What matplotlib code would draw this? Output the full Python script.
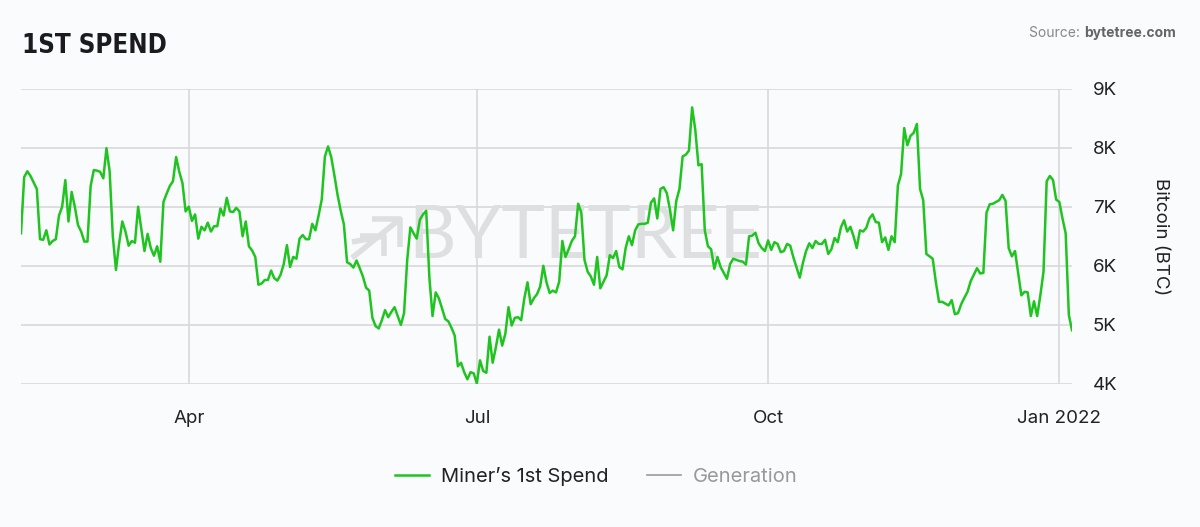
import numpy as np
import pandas as pd
import matplotlib
matplotlib.use('Agg')
import matplotlib.pyplot as plt
from matplotlib.ticker import FuncFormatter

# Miner's 1st spend, thousands of BTC, one value per day from 7 Feb 2021
feb = [6.55, 7.5, 7.6, 7.52, 7.41, 7.3, 6.45, 6.44, 6.6, 6.36, 6.42, 6.45, 6.85, 7.0,
       7.45, 6.75, 7.25, 7.0, 6.69, 6.58, 6.41, 6.41]
mar = [7.35, 7.62, 7.61, 7.59, 7.48, 7.99, 7.6, 6.5, 5.93, 6.38, 6.75, 6.58, 6.34, 6.42,
       6.39, 7.0, 6.62, 6.25, 6.54, 6.3, 6.17, 6.33, 6.07, 7.08, 7.22, 7.35, 7.43, 7.84,
       7.59, 7.4, 6.92]
apr = [7.0, 6.76, 6.87, 6.46, 6.66, 6.6, 6.73, 6.58, 6.67, 6.67, 6.97, 6.85, 7.15, 6.92,
       6.91, 6.98, 6.92, 6.5, 6.75, 6.33, 6.26, 6.15, 5.68, 5.7, 5.76, 5.76, 5.92, 5.79,
       5.75, 5.85]
may = [6.03, 6.35, 5.98, 6.15, 6.12, 6.46, 6.52, 6.45, 6.45, 6.71, 6.6, 6.85, 7.12, 7.85,
       8.02, 7.84, 7.53, 7.2, 6.93, 6.7, 6.06, 6.03, 5.97, 6.09, 5.96, 5.82, 5.63, 5.58,
       5.12, 4.98, 4.94]
jun = [5.08, 5.25, 5.13, 5.22, 5.3, 5.15, 5.0, 5.2, 6.1, 6.65, 6.55, 6.46, 6.78, 6.87,
       6.93, 5.8, 5.15, 5.55, 5.45, 5.28, 5.1, 5.06, 4.95, 4.82, 4.3, 4.36, 4.2, 4.08,
       4.2, 4.18]
jul = [4.01, 4.4, 4.22, 4.19, 4.8, 4.36, 4.62, 4.92, 4.65, 4.85, 5.3, 4.99, 5.12, 5.13,
       5.08, 5.45, 5.72, 5.35, 5.45, 5.52, 5.65, 6.0, 5.72, 5.54, 5.58, 5.55, 5.73, 6.42,
       6.15, 6.28, 6.42]
aug = [6.5, 7.05, 6.9, 6.1, 5.9, 5.82, 5.68, 6.15, 5.62, 5.73, 5.84, 6.18, 6.13, 6.25,
       5.98, 5.94, 6.3, 6.5, 6.35, 6.6, 6.7, 6.71, 6.71, 6.73, 7.07, 7.14, 6.8, 7.3, 7.33,
       7.23, 6.95]
sep = [6.6, 7.1, 7.3, 7.85, 7.88, 7.95, 8.68, 8.3, 7.7, 7.72, 6.6, 6.33, 6.28, 5.95,
       6.15, 5.98, 5.88, 5.78, 6.03, 6.12, 6.1, 6.08, 6.07, 6.02, 6.5, 6.51, 6.56, 6.38,
       6.3, 6.25]
oct = [6.43, 6.27, 6.4, 6.37, 6.23, 6.25, 6.37, 6.34, 6.14, 5.97, 5.8, 6.05, 6.25, 6.38,
       6.3, 6.42, 6.37, 6.37, 6.44, 6.2, 6.28, 6.47, 6.4, 6.65, 6.77, 6.58, 6.66, 6.5,
       6.3, 6.6, 6.58]
nov = [6.64, 6.8, 6.87, 6.74, 6.73, 6.4, 6.48, 6.27, 6.5, 6.4, 7.36, 7.55, 8.33, 8.04,
       8.2, 8.25, 8.4, 7.3, 7.11, 6.2, 6.16, 6.12, 5.72, 5.39, 5.39, 5.36, 5.33, 5.42,
       5.18, 5.2]
dec = [5.35, 5.46, 5.56, 5.74, 5.85, 5.96, 5.87, 5.88, 6.9, 7.04, 7.05, 7.08, 7.11, 7.2,
       7.1, 6.3, 6.16, 6.25, 5.87, 5.5, 5.56, 5.55, 5.15, 5.4, 5.15, 5.5, 5.9, 7.43, 7.52,
       7.45, 7.12]
jan = [7.08, 6.8, 6.55, 5.17, 4.91]

start = '2021-02-07'
x_ticks = ['2021-04-01', '2021-07-01', '2021-10-01', '2022-01-01']
x_labels = ['Apr', 'Jul', 'Oct', 'Jan 2022']
y_ticks = [4, 5, 6, 7, 8, 9]

values = np.concatenate([feb, mar, apr, may, jun, jul, aug, sep, oct, nov, dec, jan])
dates = pd.date_range(start, periods=len(values), freq='D')

plt.rcParams['font.family'] = ['Inter', 'DejaVu Sans']
bg = '#fafbfd'
green = '#20c420'
grid = '#d9d9dc'
W, H = 1200, 527

fig = plt.figure(figsize=(12, 5.27), dpi=100, facecolor=bg)
ax = fig.add_axes([21 / W, 1 - 384 / H, 1051 / W, 295.5 / H])
ax.set_facecolor(bg)

ax.plot(dates, values, color=green, lw=1.8, label='Miner\u2019s 1st Spend', zorder=3,
        solid_joinstyle='round')
ax.plot([], [], color='#9a9a9a', lw=1.2, label='Generation')

ax.set_xlim(dates[0], dates[-1])
ax.set_ylim(4, 9)
ax.set_xticks(pd.to_datetime(x_ticks))
ax.set_xticklabels(x_labels)
ax.set_yticks(y_ticks)
ax.yaxis.set_major_formatter(FuncFormatter(lambda v, p: f'{v:g}K'))
ax.yaxis.tick_right()
ax.yaxis.set_label_position('right')
ax.set_ylabel('Bitcoin (BTC)', rotation=270, fontsize=13.5, color='#222222', labelpad=37)

ax.grid(True, color=grid, lw=1.2)
ax.set_axisbelow(True)
for s in ax.spines.values():
    s.set_visible(False)
ax.tick_params(axis='both', length=0, labelsize=13.5, colors='#222222')
ax.tick_params(axis='y', pad=15)
ax.tick_params(axis='x', pad=19)

# watermark: logo + name
wm = '#dedfe1'
def px(x, y):
    return (x - 21) / 1051, (384 - y) / 295.5

for pts in [[(352, 258), (400, 219)], [(372, 219), (400, 219), (400, 247)],
            [(352, 242), (384, 236)], [(360, 236), (384, 236), (384, 256)]]:
    xs, ys = zip(*[px(a, b) for a, b in pts])
    ax.plot(xs, ys, transform=ax.transAxes, color=wm, lw=4, zorder=1,
            solid_capstyle='butt')
tx, ty = px(585, 238)
ax.text(tx, ty, 'BYTETREE', transform=ax.transAxes, ha='center', va='center',
        fontsize=53, color=wm, family=['Lato', 'DejaVu Sans'], weight='normal',
        zorder=1)

fig.text(22 / W, 1 - 46 / H, '1ST SPEND', fontsize=18.5, weight='bold',
         family=['DejaVu Sans'], stretch='condensed', color='#1b1b1f', va='center')

src = fig.text(1176 / W, 1 - 33 / H, 'bytetree.com', fontsize=10, weight='bold',
               color='#666666', ha='right', va='center')
fig.canvas.draw()
bb = src.get_window_extent()
fig.text(bb.x0 / fig.bbox.width, 1 - 33 / H, 'Source: ', fontsize=10, color='#888888',
         ha='right', va='center')

leg = fig.legend(loc='center', bbox_to_anchor=(0.497, 1 - 477 / H), ncol=2,
                 frameon=False, fontsize=14.5, handlelength=1.7, handletextpad=0.6,
                 columnspacing=1.9)
for t, c in zip(leg.get_texts(), ['#222222', '#999999']):
    t.set_color(c)

fig.savefig('out.png', dpi=100, facecolor=bg)
